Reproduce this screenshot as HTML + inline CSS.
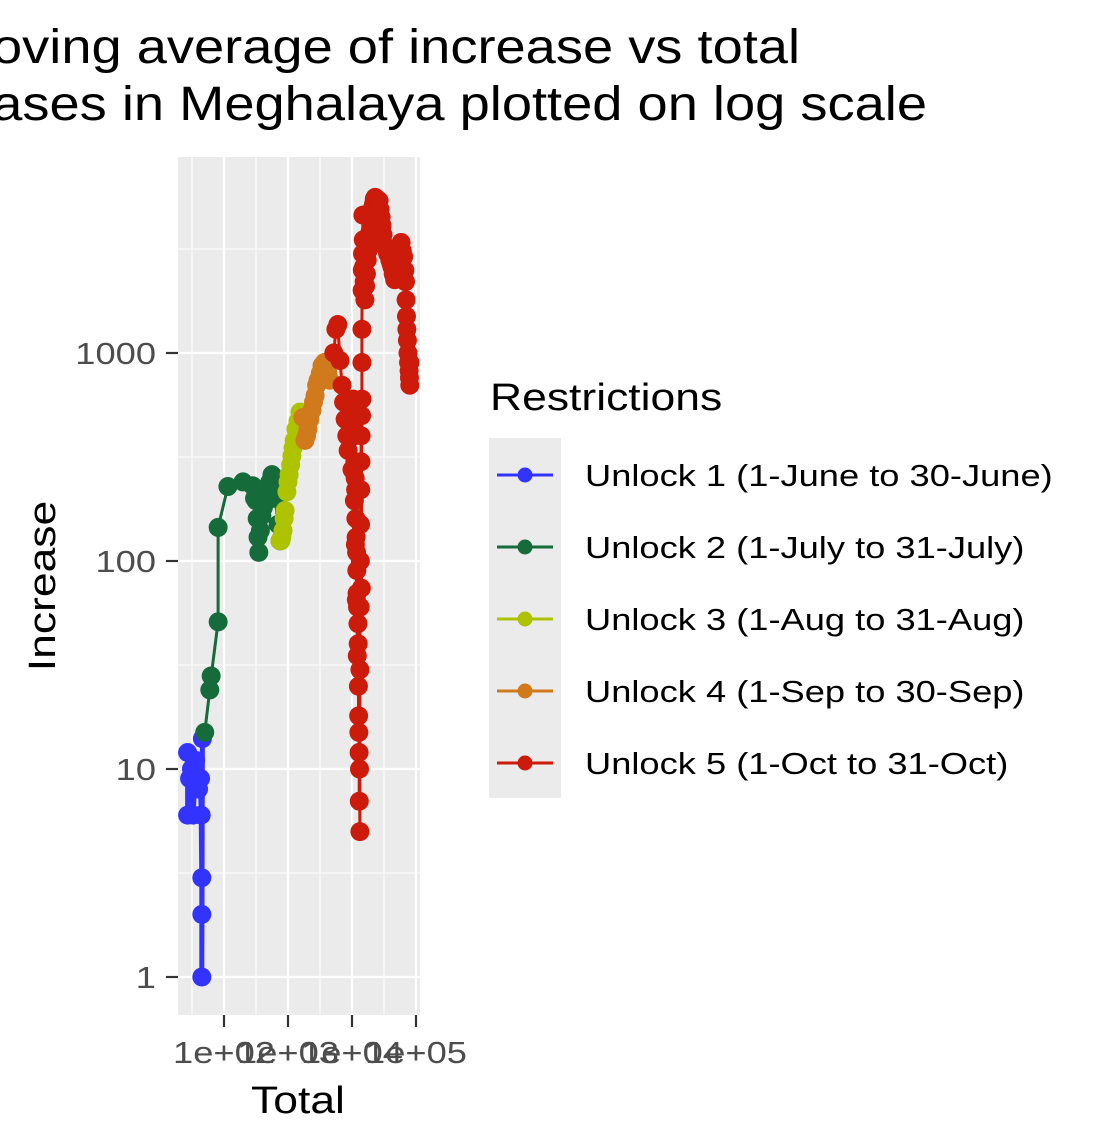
<!DOCTYPE html>
<html><head><meta charset="utf-8"><style>
html,body{margin:0;padding:0;background:#fff;}
svg{display:block;font-family:"Liberation Sans",Arial,sans-serif;}
</style></head><body>
<svg id="chart" width="1102" height="1145" viewBox="0 0 1102 1145" xmlns="http://www.w3.org/2000/svg">
<text class="st tt" x="800" y="63" text-anchor="end" font-size="48" fill="#000">Moving average of increase vs total</text>
<text class="st tt" x="927" y="120" text-anchor="end" font-size="48" fill="#000">cases in Meghalaya plotted on log scale</text>
<rect x="178" y="157" width="242" height="858" fill="#ebebeb"/>
<g id="grid"></g>
<g id="series"></g>
<g id="axes"></g>
<text class="st" transform="translate(55,586) rotate(-90)" text-anchor="middle" font-size="38" fill="#000">Increase</text>
<text class="st" x="298" y="1113" text-anchor="middle" font-size="38" fill="#000">Total</text>
<text class="st" x="490" y="410" font-size="38" fill="#000">Restrictions</text>
<rect x="489" y="438" width="72" height="360" fill="#ebebeb"/>
<g id="legend"></g>
</svg>
<script>
const yTicks = [1, 10, 100, 1000];
const yTickLabels = ["1", "10", "100", "1000"];
const xTicks = [100, 1000, 10000, 100000];
const xTickLabels = ["1e+02", "1e+03", "1e+04", "1e+05"];
const seriesNames = ["Unlock 1 (1-June to 30-June)", "Unlock 2 (1-July to 31-July)", "Unlock 3 (1-Aug to 31-Aug)", "Unlock 4 (1-Sep to 30-Sep)", "Unlock 5 (1-Oct to 31-Oct)"];
const seriesColors = ["#3333ff", "#166b3b", "#adc300", "#d17a1d", "#cc1a0b"];
const total1 = [27,27,29,31,33,36,40,43,44,45,45,45,46];
const incr1 = [12,6,9,10,6,11,8,9,6,3,2,1,14];
const total2 = [50,60,63,81,81,115,198,280,300,316,330,340,350,370,390,410,437,460,487,520,562,600,630,700,750];
const incr2 = [15,24,28,51,145,228,240,230,200,195,160,130,110,140,165,180,190,200,215,240,260,230,200,150,125];
const total3 = [750,775,800,835,870,900,960,1000,1040,1100,1150,1200,1250,1330,1430,1540,1710];
const incr3 = [125,125,130,140,160,175,215,240,260,290,320,350,380,430,470,520,490];
const total4 = [1710,1840,1950,2050,2200,2370,2500,2650,2800,2950,3200,3400,3700,3900,4200,4500,5200];
const incr4 = [490,380,400,430,480,530,580,625,700,740,800,870,900,900,800,740,1000];
const total5 = [5200,5600,6000,6500,7000,7400,7800,8300,8700,9300,10000,10300,10500,10700,10900,11000,11100,11200,11300,11400,11500,11600,11700,11800,11900,12000,12100,12200,12400,12500,12600,12700,12800,12900,13000,13100,13300,13300,13400,13500,13600,13700,13800,13900,14000,14100,14300,14300,14300,14400,14500,14600,14800,15000,15200,15500,15900,16300,16800,17300,17800,18400,19000,19700,20500,21000,21700,22300,23000,23700,24500,25500,26500,27500,28500,29500,30500,32000,34000,36000,39000,40500,42000,44000,46500,48500,51000,53500,56000,58500,61000,64000,67000,68500,70000,71000,72000,73500,75000,76500,78000,79000,80000,80500];
const incr5 = [1000,1300,1370,920,700,580,480,400,340,420,275,550,600,450,195,400,300,250,120,220,160,130,65,110,90,70,35,60,50,40,25,18,15,12,7,10,5,30,60,100,150,220,300,400,74,500,600,900,1300,2000,2500,3000,4600,3500,2600,2200,1800,2100,2400,2800,3100,3500,3800,4300,4800,5000,5200,5500,5600,5400,5500,5300,5400,4900,4500,4100,3700,3300,3200,3000,2800,2700,2600,2400,2250,2500,2700,3000,3200,3400,3100,2900,2500,2200,1800,1500,1300,1150,1000,900,820,760,700,900];
const totals = [total1, total2, total3, total4, total5];
const incrs = [incr1, incr2, incr3, incr4, incr5];

const NS = "http://www.w3.org/2000/svg";
const X0 = 224, XD = 64, Y0 = 977, YD = 208;
function xs(v){ return X0 + XD * (Math.log10(v) - 2); }
function ys(v){ return Y0 - YD * Math.log10(v); }
function mk(tag, attrs, parent){ const e = document.createElementNS(NS, tag); for (const k in attrs) e.setAttribute(k, attrs[k]); parent.appendChild(e); return e; }

const grid = document.getElementById('grid');
const px0 = 178, px1 = 420, py0 = 157, py1 = 1015;
for (let i = -1; i < xTicks.length; i++) {
  const x = X0 + XD * (0.5 + i);
  if (x > px0 && x < px1) {
    const l = mk('line', {x1:x, x2:x, y1:py0, y2:py1, stroke:'#fff', 'stroke-width':1.1}, grid);
    
    
  }
}
for (let i = -1; i < yTicks.length; i++) {
  const y = Y0 - YD * (0.5 + i);
  if (y > py0 && y < py1) {
    const l = mk('line', {x1:px0, x2:px1, y1:y, y2:y, stroke:'#fff', 'stroke-width':1.1}, grid);
    
    
  }
}
xTicks.forEach(v => {
  const l = mk('line', {x1:xs(v), x2:xs(v), y1:py0, y2:py1, stroke:'#fff', 'stroke-width':2.2}, grid);
  
  
});
yTicks.forEach(v => {
  const l = mk('line', {x1:px0, x2:px1, y1:ys(v), y2:ys(v), stroke:'#fff', 'stroke-width':2.2}, grid);
  
  
});

const sg = document.getElementById('series');
totals.forEach((tArr, s) => {
  const g = mk('g', {}, sg);
  
  
  const pts = tArr.map((t, i) => xs(t).toFixed(1) + ',' + ys(incrs[s][i]).toFixed(1)).join(' ');
  const pl = mk('polyline', {points:pts, fill:'none', stroke:seriesColors[s], 'stroke-width': s === 0 ? 5 : 3, 'stroke-linejoin':'round'}, g);
  
  
  tArr.forEach((t, i) => {
    const c = mk('circle', {cx:xs(t), cy:ys(incrs[s][i]), r:9.5, fill:seriesColors[s]}, g);
    
    
  });
});

const ax = document.getElementById('axes');
yTicks.forEach((v, i) => {
  const y = ys(v);
  const t = mk('line', {x1:166, x2:178, y1:y, y2:y, stroke:'#333', 'stroke-width':2.2}, ax);
  
  
  const tx = mk('text', {x:156, y:y + 11, 'text-anchor':'end', 'font-size':31, fill:'#4d4d4d', class:'st'}, ax);
  tx.textContent = yTickLabels[i];
  
  
});
xTicks.forEach((v, i) => {
  const x = xs(v);
  const t = mk('line', {x1:x, x2:x, y1:1015, y2:1027, stroke:'#333', 'stroke-width':2.2}, ax);
  
  
  const tx = mk('text', {x:x, y:1063, 'text-anchor':'middle', 'font-size':31, fill:'#4d4d4d', class:'st'}, ax);
  tx.textContent = xTickLabels[i];
  
  
});

const lg = document.getElementById('legend');
seriesNames.forEach((n, i) => {
  const y = 475 + 72 * i;
  const g = mk('g', {}, lg);
  
  
  mk('line', {x1:497, x2:553, y1:y, y2:y, stroke:seriesColors[i], 'stroke-width':3}, g);
  mk('circle', {cx:525, cy:y, r:7.5, fill:seriesColors[i]}, g);
  const t = mk('text', {x:585, y:y + 11, 'font-size':31, fill:'#000', class:'st'}, g);
  t.textContent = n;
  
  
});

document.querySelectorAll('text.st').forEach(t => {
  const w = t.getComputedTextLength();
  const f = t.classList.contains('tt') ? 1.13 : 1.17;
  t.setAttribute('textLength', (w * f).toFixed(1));
  t.setAttribute('lengthAdjust', 'spacingAndGlyphs');
});
</script>
</body></html>
